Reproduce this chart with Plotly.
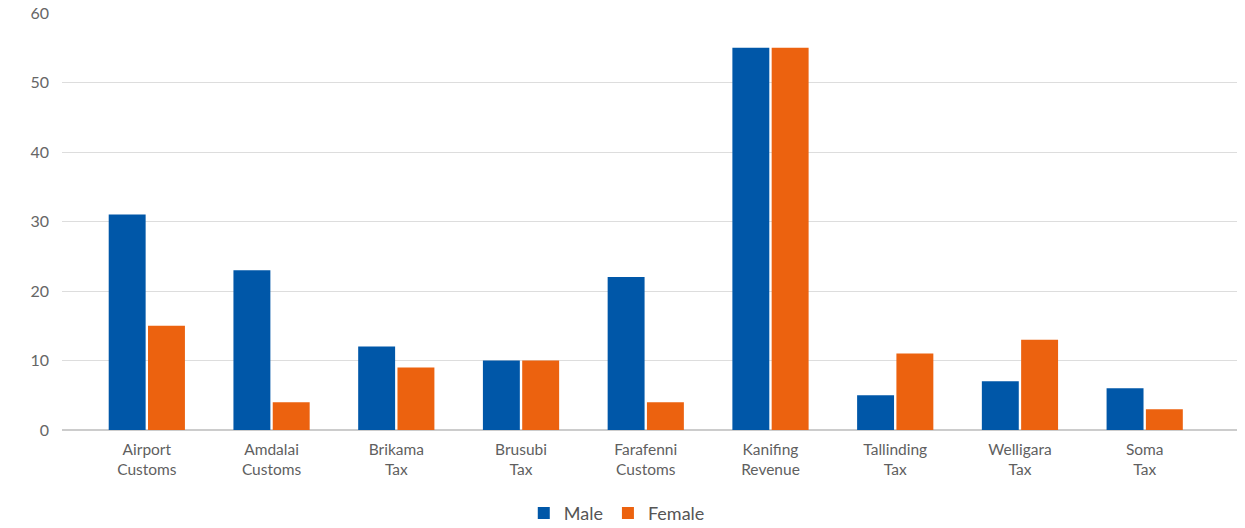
import plotly.graph_objects as go

categories = ["Airport<br>Customs", "Amdalai<br>Customs", "Brikama<br>Tax", "Brusubi<br>Tax",
              "Farafenni<br>Customs", "Kanifing<br>Revenue", "Tallinding<br>Tax", "Welligara<br>Tax", "Soma<br>Tax"]
male = [31, 23, 12, 10, 22, 55, 5, 7, 6]
female = [15, 4, 9, 10, 4, 55, 11, 13, 3]
y_ticks = [0, 10, 20, 30, 40, 50, 60]

fig = go.Figure()
fig.add_trace(go.Bar(x=categories, y=male, name="Male", marker=dict(color="#0057A8", line=dict(width=0))))
fig.add_trace(go.Bar(x=categories, y=female, name="Female", marker=dict(color="#EC620F", line=dict(width=0))))

fig.update_layout(
    width=1245, height=528,
    margin=dict(l=62, r=8, t=13, b=98, autoexpand=False),
    paper_bgcolor="white", plot_bgcolor="white",
    barmode="group", bargap=0.37, bargroupgap=0.06,
    font=dict(family="Lato", color="#666666", size=15),
    legend=dict(orientation="h", x=0.393, xanchor="left", y=-0.2, yanchor="middle",
                font=dict(size=18, color="#555555"), traceorder="normal"),
    xaxis=dict(range=[-0.68, 8.74], showgrid=False, showline=False, zeroline=False, automargin=False,
               tickfont=dict(size=15.5, color="#5f5f5f"), ticks="", ticklabelstandoff=8),
    yaxis=dict(range=[0, 60], tickvals=y_ticks, showgrid=True, gridcolor="#dddddd", gridwidth=1,
               zeroline=True, zerolinecolor="#cccccc", zerolinewidth=1.5, automargin=False,
               tickfont=dict(size=16, color="#666666"), ticklabelstandoff=12, showline=False),
)

fig.write_html("out.html", config={"displayModeBar": False},
               post_script="document.body.style.margin='0';document.body.style.overflow='hidden';")
